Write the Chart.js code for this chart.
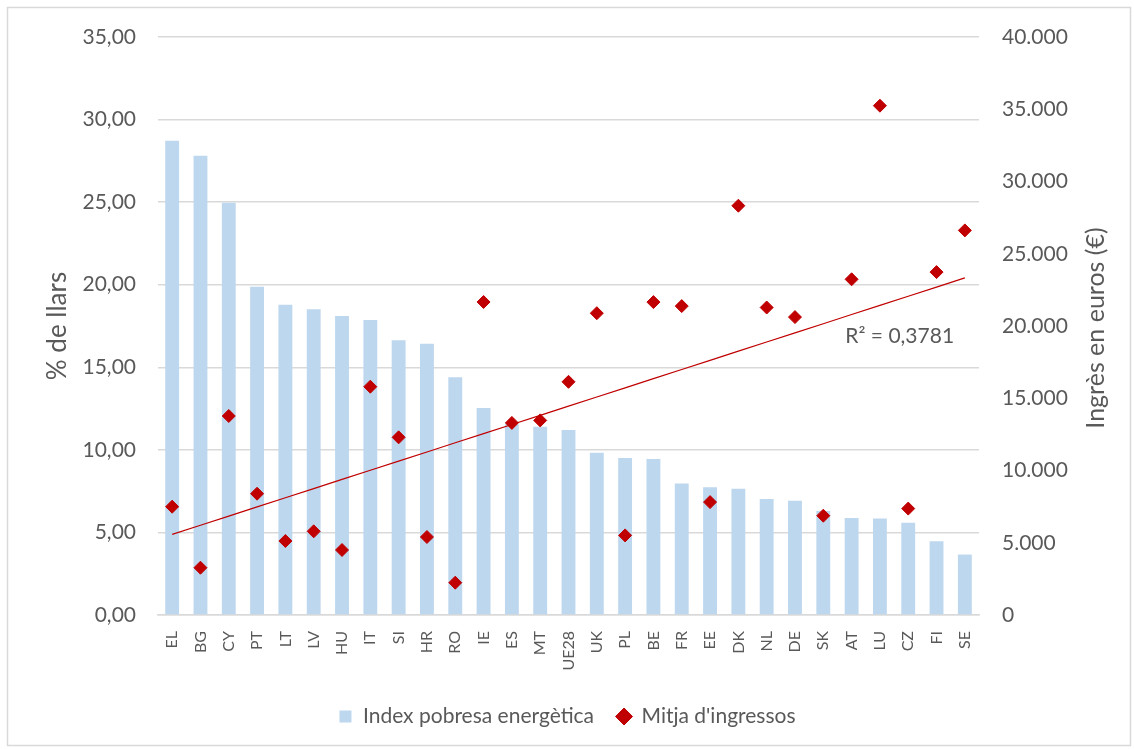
<!DOCTYPE html>
<html lang="ca">
<head>
  <meta charset="UTF-8" />
  <title>Pobresa energètica i ingressos</title>
  <script src="https://cdn.jsdelivr.net/npm/chart.js"></script>
  <style>
    html, body { margin: 0; padding: 0; background: #fff; }
    .wrap { position: relative; width: 1134px; height: 749px; }
  </style>
</head>
<body>
  <div class="wrap">
    <canvas id="chart" width="1134" height="749"></canvas>
  </div>

  <script>
    // Countries, sorted by energy poverty index
    const countries = ['EL', 'BG', 'CY', 'PT', 'LT', 'LV', 'HU', 'IT', 'SI', 'HR', 'RO', 'IE', 'ES', 'MT', 'UE28',
      'UK', 'PL', 'BE', 'FR', 'EE', 'DK', 'NL', 'DE', 'SK', 'AT', 'LU', 'CZ', 'FI', 'SE'];

    // % of households (left axis)
    const povertyIndex = [28.72, 27.81, 24.97, 19.88, 18.79, 18.51, 18.11, 17.86, 16.63, 16.43, 14.39, 12.53, 11.55, 11.40, 11.20,
      9.82, 9.51, 9.45, 7.96, 7.74, 7.65, 7.03, 6.92, 6.30, 5.88, 5.84, 5.58, 4.46, 3.66];

    // Mean income in euros (right axis)
    const meanIncome = [7495, 3273, 13772, 8394, 5121, 5790, 4498, 15800, 12295, 5398, 2237, 21661, 13294, 13467, 16138,
      20886, 5509, 21654, 21377, 7813, 28325, 21280, 20616, 6872, 23232, 35246, 7363, 23730, 26616];

    const leftTicks = [0, 5, 10, 15, 20, 25, 30, 35];
    const rightTicks = [0, 5000, 10000, 15000, 20000, 25000, 30000, 35000, 40000];
    const r2Label = 'R² = 0,3781';
    const rightTitle = 'Ingrès en euros (€)';

    // linear trendline of income over category position (Excel style)
    function trend(values) {
      const n = values.length;
      const mx = (n - 1) / 2;
      const my = values.reduce((a, b) => a + b, 0) / n;
      let sxy = 0, sxx = 0;
      values.forEach((v, i) => { sxy += (i - mx) * (v - my); sxx += (i - mx) * (i - mx); });
      const b = sxy / sxx;
      return values.map((v, i) => my + b * (i - mx));
    }

    const grey = '#595959';
    const font = 'Lato, "Open Sans", sans-serif';

    const extras = {
      id: 'extras',
      beforeDraw(chart) {
        const c = chart.ctx;
        c.save();
        c.fillStyle = '#fff';
        c.fillRect(0, 0, chart.width, chart.height);
        c.strokeStyle = '#d9d9d9';
        c.lineWidth = 1.5;
        c.strokeRect(7.5, 7.5, chart.width - 11, chart.height - 11);
        c.restore();
      },
      afterDatasetsDraw(chart) {
        const c = chart.ctx;
        const area = chart.chartArea;
        const x = chart.scales.x.getPixelForValue(23) + 22;
        const y = chart.scales.y1.getPixelForValue(19300);
        c.save();
        c.font = '21px ' + font;
        c.fillStyle = grey;
        c.textBaseline = 'middle';
        c.fillText(r2Label, x, y);
        // right axis title, reading bottom to top like the left one
        c.translate(1096, (area.top + area.bottom) / 2 + 2);
        c.rotate(-Math.PI / 2);
        c.textAlign = 'center';
        c.font = '25px ' + font;
        c.fillText(rightTitle, 0, 0);
        c.restore();
      }
    };

    new Chart(document.getElementById('chart'), {
      type: 'bar',
      data: {
        labels: countries,
        datasets: [
          {
            type: 'bar',
            label: 'Index pobresa energètica',
            data: povertyIndex,
            yAxisID: 'y',
            backgroundColor: '#bdd7ee',
            pointStyle: 'rect',
            barPercentage: 0.7,
            categoryPercentage: 0.7,
            order: 3
          },
          {
            type: 'line',
            label: 'trend',
            data: trend(meanIncome),
            yAxisID: 'y1',
            borderColor: '#c00000',
            borderWidth: 1.2,
            pointRadius: 0,
            fill: false,
            order: 2
          },
          {
            type: 'line',
            label: "Mitja d'ingressos",
            data: meanIncome,
            yAxisID: 'y1',
            showLine: false,
            pointStyle: 'rectRot',
            pointRadius: 6.5,
            pointBorderWidth: 1,
            backgroundColor: '#c00000',
            borderColor: '#c00000',
            order: 1
          }
        ]
      },
      options: {
        responsive: false,
        animation: false,
        layout: { padding: { left: 0, right: 0, top: 37, bottom: 12 } },
        plugins: {
          tooltip: { enabled: false },
          legend: {
            position: 'bottom',
            labels: {
              usePointStyle: true,
              boxWidth: 14,
              boxHeight: 12,
              padding: 23,
              color: grey,
              font: { family: font, size: 21 },
              filter: item => item.text !== 'trend',
              sort: (a, b) => a.datasetIndex - b.datasetIndex
            }
          }
        },
        scales: {
          x: {
            offset: true,
            grid: { display: false },
            border: { display: true, color: '#d9d9d9', width: 1.5 },
            ticks: {
              color: grey,
              font: { family: font, size: 16 },
              minRotation: 89.99,
              maxRotation: 90,
              autoSkip: false,
              padding: 8
            },
            afterFit: s => { s.height = 68; }
          },
          y: {
            position: 'left',
            min: 0,
            max: 35,
            afterBuildTicks: s => { s.ticks = leftTicks.map(v => ({ value: v })); },
            grid: { color: '#d9d9d9', lineWidth: 1.5, drawTicks: false },
            border: { display: false },
            ticks: {
              color: grey,
              font: { family: font, size: 21 },
              padding: 22,
              callback: v => v.toFixed(2).replace('.', ',')
            },
            title: {
              display: true,
              text: '% de llars',
              color: grey,
              font: { family: font, size: 26 },
              padding: { top: 42, bottom: 0 }
            },
            afterFit: s => { s.width = 158; }
          },
          y1: {
            position: 'right',
            min: 0,
            max: 40000,
            afterBuildTicks: s => { s.ticks = rightTicks.map(v => ({ value: v })); },
            grid: { display: false, drawTicks: false },
            border: { display: false },
            ticks: {
              color: grey,
              font: { family: font, size: 21 },
              padding: 23,
              callback: v => v.toLocaleString('de-DE')
            },
            afterFit: s => { s.width = 155; }
          }
        }
      },
      plugins: [extras]
    });
  </script>
</body>
</html>
